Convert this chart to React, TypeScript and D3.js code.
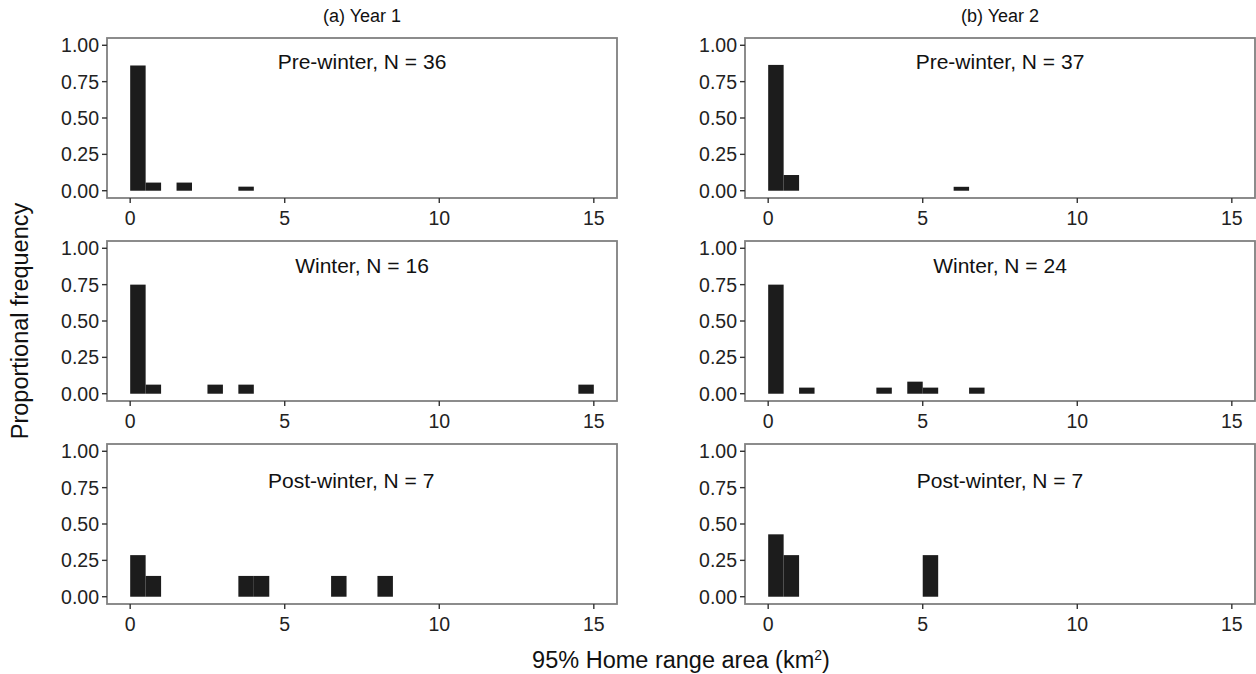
import React from "react";
import * as d3 from "d3";

// ---- data ----
const yearTitles = ["(a) Year 1", "(b) Year 2"];
const seasonNames = ["Pre-winter", "Winter", "Post-winter"];
const nYear1 = [36, 16, 7];
const nYear2 = [37, 24, 7];
const binWidth = 0.5;

// bin starts (km²) and proportional frequencies
const y1PreBins = [0, 0.5, 1.5, 3.5];
const y1PreFreq = [0.861, 0.056, 0.056, 0.028];
const y1WinBins = [0, 0.5, 2.5, 3.5, 14.5];
const y1WinFreq = [0.75, 0.0625, 0.0625, 0.0625, 0.0625];
const y1PostBins = [0, 0.5, 3.5, 4.0, 6.5, 8.0];
const y1PostFreq = [0.286, 0.143, 0.143, 0.143, 0.143, 0.143];

const y2PreBins = [0, 0.5, 6.0];
const y2PreFreq = [0.865, 0.108, 0.027];
const y2WinBins = [0, 1.0, 3.5, 4.5, 5.0, 6.5];
const y2WinFreq = [0.75, 0.042, 0.042, 0.083, 0.042, 0.042];
const y2PostBins = [0, 0.5, 5.0];
const y2PostFreq = [0.429, 0.286, 0.286];

const xTicks = [0, 5, 10, 15];
const yTicks = [0, 0.25, 0.5, 0.75, 1.0];
const labelY = [0.89, 0.88, 0.8];
const labelX = [
  [7.5, 7.5, 7.15],
  [7.5, 7.5, 7.5],
];

const panels = [
  [
    { bins: y1PreBins, freq: y1PreFreq },
    { bins: y1WinBins, freq: y1WinFreq },
    { bins: y1PostBins, freq: y1PostFreq },
  ],
  [
    { bins: y2PreBins, freq: y2PreFreq },
    { bins: y2WinBins, freq: y2WinFreq },
    { bins: y2PostBins, freq: y2PostFreq },
  ],
];
const sampleSizes = [nYear1, nYear2];

// ---- layout ----
const W = 1256;
const H = 674;
const colLeft = [107, 745];
const panelW = 510;
const rowTop = [38, 241, 444];
const panelH = 160;
const FONT = "'Liberation Sans', Arial, Helvetica, sans-serif";

function Panel({ col, row }: { col: number; row: number }) {
  const x0 = colLeft[col];
  const y0 = rowTop[row];
  const x = d3.scaleLinear().domain([-0.75, 15.75]).range([x0, x0 + panelW]);
  const y = d3.scaleLinear().domain([-0.05, 1.05]).range([y0 + panelH, y0]);
  const p = panels[col][row];
  const n = sampleSizes[col][row];
  return (
    <g>
      {p.bins.map((b, i) => (
        <rect
          key={i}
          x={x(b)}
          y={y(p.freq[i])}
          width={x(b + binWidth) - x(b)}
          height={y(0) - y(p.freq[i])}
          fill="#1c1c1c"
        />
      ))}
      <rect
        x={x0}
        y={y0}
        width={panelW}
        height={panelH}
        fill="none"
        stroke="#808080"
        strokeWidth={1.8}
      />
      {yTicks.map((t) => (
        <g key={"y" + t}>
          <line x1={x0 - 5} x2={x0} y1={y(t)} y2={y(t)} stroke="#333" strokeWidth={1.4} />
          <text
            x={x0 - 8}
            y={y(t)}
            dy="0.36em"
            textAnchor="end"
            fontSize={19.5}
            fill="#222"
            fontFamily={FONT}
          >
            {d3.format(".2f")(t)}
          </text>
        </g>
      ))}
      {xTicks.map((t) => (
        <g key={"x" + t}>
          <line x1={x(t)} x2={x(t)} y1={y0 + panelH} y2={y0 + panelH + 5} stroke="#333" strokeWidth={1.4} />
          <text
            x={x(t)}
            y={y0 + panelH + 27}
            textAnchor="middle"
            fontSize={19.5}
            fill="#222"
            fontFamily={FONT}
          >
            {t}
          </text>
        </g>
      ))}
      <text
        x={x(labelX[col][row])}
        y={y(labelY[row])}
        dy="0.36em"
        textAnchor="middle"
        fontSize={21}
        fill="#111"
        fontFamily={FONT}
      >
        {`${seasonNames[row]}, N = ${n}`}
      </text>
    </g>
  );
}

export default function App() {
  return (
    <svg
      width={W}
      height={H}
      style={{ position: "absolute", left: 0, top: 0, background: "#fff" }}
    >
      <rect x={0} y={0} width={W} height={H} fill="#fff" />
      {yearTitles.map((t, c) => (
        <text
          key={t}
          x={colLeft[c] + panelW / 2}
          y={22}
          textAnchor="middle"
          fontSize={18}
          fill="#111"
          fontFamily={FONT}
        >
          {t}
        </text>
      ))}
      {[0, 1].map((c) => [0, 1, 2].map((r) => <Panel key={c + "-" + r} col={c} row={r} />))}
      <text
        transform={`translate(28, ${(rowTop[0] + rowTop[2] + panelH) / 2}) rotate(-90)`}
        textAnchor="middle"
        fontSize={23.5}
        fill="#111"
        fontFamily={FONT}
      >
        Proportional frequency
      </text>
      <text
        x={(colLeft[0] + colLeft[1] + panelW) / 2}
        y={668}
        textAnchor="middle"
        fontSize={23.5}
        fill="#111"
        fontFamily={FONT}
      >
        95% Home range area (km<tspan baselineShift="super" fontSize={14}>2</tspan>)
      </text>
    </svg>
  );
}
